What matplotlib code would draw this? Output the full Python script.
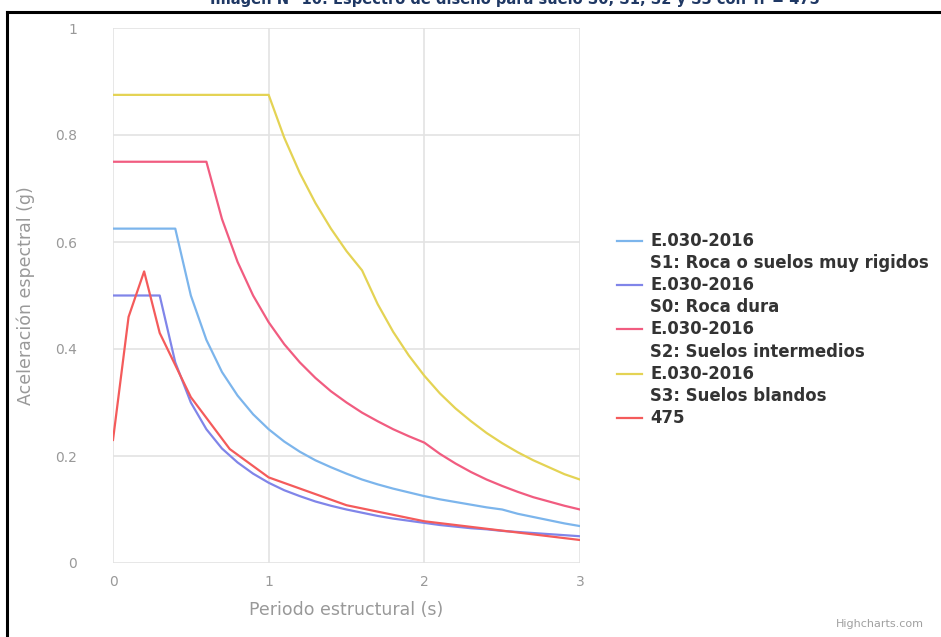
import matplotlib
matplotlib.use('Agg')
import matplotlib.pyplot as plt
from matplotlib.lines import Line2D

W, H = 941, 637

# periodos (s) comunes para los espectros de la norma
periodos = [0.0, 0.1, 0.2, 0.3, 0.4, 0.5, 0.6, 0.7, 0.8, 0.9, 1.0,
            1.1, 1.2, 1.3, 1.4, 1.5, 1.6, 1.7, 1.8, 1.9, 2.0,
            2.1, 2.2, 2.3, 2.4, 2.5, 2.6, 2.7, 2.8, 2.9, 3.0]

s1 = [0.625, 0.625, 0.625, 0.625, 0.625, 0.5, 0.417, 0.357, 0.313, 0.278, 0.25,
      0.227, 0.208, 0.192, 0.179, 0.167, 0.156, 0.147, 0.139, 0.132, 0.125,
      0.119, 0.114, 0.109, 0.104, 0.1, 0.092, 0.086, 0.080, 0.074, 0.069]

s0 = [0.5, 0.5, 0.5, 0.5, 0.375, 0.3, 0.25, 0.214, 0.188, 0.167, 0.15,
      0.136, 0.125, 0.115, 0.107, 0.1, 0.094, 0.088, 0.083, 0.079, 0.075,
      0.071, 0.068, 0.065, 0.063, 0.06, 0.058, 0.056, 0.054, 0.052, 0.05]

s2 = [0.75, 0.75, 0.75, 0.75, 0.75, 0.75, 0.75, 0.643, 0.563, 0.5, 0.45,
      0.409, 0.375, 0.346, 0.321, 0.3, 0.281, 0.265, 0.25, 0.237, 0.225,
      0.204, 0.186, 0.170, 0.156, 0.144, 0.133, 0.123, 0.115, 0.107, 0.1]

s3 = [0.875, 0.875, 0.875, 0.875, 0.875, 0.875, 0.875, 0.875, 0.875, 0.875, 0.875,
      0.795, 0.729, 0.673, 0.625, 0.583, 0.547, 0.484, 0.432, 0.388, 0.35,
      0.317, 0.289, 0.265, 0.243, 0.224, 0.207, 0.192, 0.179, 0.166, 0.156]

# espectro de peligro uniforme Tr = 475
t_475 = [0.0, 0.1, 0.2, 0.3, 0.4, 0.5, 0.75, 1.0, 1.5, 2.0, 3.0]
sa_475 = [0.23, 0.46, 0.545, 0.43, 0.37, 0.31, 0.213, 0.16, 0.108, 0.078, 0.043]

series = [
    (periodos, s1, '#7cb5ec', ['E.030-2016', 'S1: Roca o suelos muy rigidos']),
    (periodos, s0, '#8085e9', ['E.030-2016', 'S0: Roca dura']),
    (periodos, s2, '#f15c80', ['E.030-2016', 'S2: Suelos intermedios']),
    (periodos, s3, '#e4d354', ['E.030-2016', 'S3: Suelos blandos']),
    (t_475, sa_475, '#f45b5b', ['475']),
]


def fx(px):
    return px / W


def fy(py):
    return 1 - py / H


fig = plt.figure(figsize=(W / 100, H / 100), dpi=100)
ax = fig.add_axes([fx(113), fy(563), (580 - 113) / W, (563 - 28) / H])

for x, y, c, lab in series:
    ax.plot(x, y, color=c, lw=1.6, zorder=3, solid_joinstyle='round')

ax.set_xlim(0, 3)
ax.set_ylim(0, 1)
ax.set_xticks([0, 1, 2, 3])
ax.set_yticks([0, 0.2, 0.4, 0.6, 0.8, 1.0])
ax.set_yticklabels(['0', '0.2', '0.4', '0.6', '0.8', '1'])
ax.grid(True, color='#e3e3e3', lw=1.2)
ax.set_axisbelow(True)
for s in ax.spines.values():
    s.set_visible(False)
ax.tick_params(length=0, colors='#999999', labelsize=10)
ax.tick_params(axis='y', pad=26)
ax.tick_params(axis='x', pad=9)
ax.set_xlabel('Periodo estructural (s)', fontsize=12.5, color='#999999', labelpad=8)
ax.set_ylabel('Aceleración espectral (g)', fontsize=12.5, color='#999999', labelpad=14)

# leyenda a la derecha
row = 241
for x, y, c, lab in series:
    fig.add_artist(Line2D([fx(617), fx(642)], [fy(row), fy(row)], color=c, lw=1.6,
                          transform=fig.transFigure))
    for t in lab:
        fig.text(fx(650), fy(row), t, fontsize=11.9, fontweight='bold',
                 color='#333333', va='center', ha='left')
        row += 22.1

fig.text(fx(924), fy(624), 'Highcharts.com', fontsize=8, color='#a0a0a0',
         ha='right', va='center')

# titulo cortado arriba y marco
fig.text(fx(515), fy(4), 'Imagen N° 10: Espectro de diseño para suelo S0, S1, S2 y S3 con Tr = 475',
         fontsize=10.5, fontweight='bold', color='#1f3864', ha='center', va='baseline')
fig.add_artist(Line2D([fx(7), fx(W + 5)], [fy(12), fy(12)], color='black', lw=2.2,
                      transform=fig.transFigure))
fig.add_artist(Line2D([fx(7), fx(7)], [fy(12), fy(H + 5)], color='black', lw=2.2,
                      transform=fig.transFigure))

fig.savefig('out.png', dpi=100)
